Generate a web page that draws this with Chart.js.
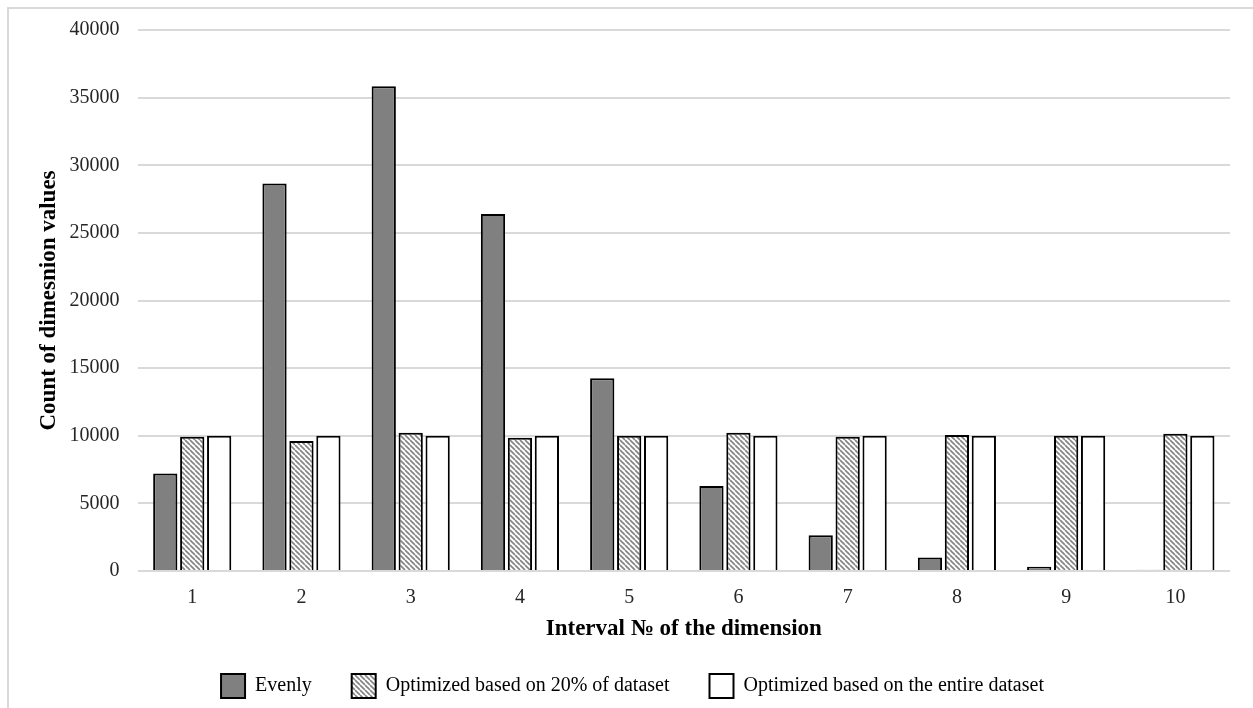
<!DOCTYPE html>
<html lang="en">
<head>
  <meta charset="UTF-8">
  <title>Count of dimension values by interval</title>
  <script src="https://cdn.jsdelivr.net/npm/chart.js"></script>
  <style>
    body { margin: 0; background: #fff; overflow: hidden; }
    #wrap { position: relative; width: 1253px; height: 708px; }
    #frame { position: absolute; left: 7px; top: 7px; width: 1270px; height: 720px; border: 2px solid #d9d9d9; box-sizing: border-box; pointer-events: none; }
  </style>
</head>
<body>
<div id="wrap">
  <canvas id="chart" width="1253" height="708"></canvas>
  <div id="frame"></div>
</div>
<script>
const intervals = ['1', '2', '3', '4', '5', '6', '7', '8', '9', '10'];
const evenly = [7200, 28650, 35850, 26400, 14250, 6280, 2650, 1000, 320, 100];
const optimized20 = [9920, 9620, 10230, 9850, 10000, 10230, 9920, 10060, 10000, 10150];
const optimizedAll = [10000, 10000, 10000, 10000, 10000, 10000, 10000, 10000, 10000, 10000];
const yTicks = [0, 5000, 10000, 15000, 20000, 25000, 30000, 35000, 40000];

// diagonal hatch for the 20% series
function makeHatch() {
  const c = document.createElement('canvas');
  c.width = 5; c.height = 5;
  const g = c.getContext('2d');
  g.fillStyle = '#fff';
  g.fillRect(0, 0, 5, 5);
  g.strokeStyle = '#858585';
  g.lineWidth = 1.7;
  for (let k = -5; k <= 10; k += 5) {
    g.beginPath(); g.moveTo(k, 0); g.lineTo(k + 5, 5); g.stroke();
  }
  return g.createPattern(c, 'repeat');
}
const hatch = makeHatch();

const serif = '"Liberation Serif", "Times New Roman", serif';

new Chart(document.getElementById('chart'), {
  type: 'bar',
  data: {
    labels: intervals,
    datasets: [
      { label: 'Evenly', data: evenly, backgroundColor: '#808080', borderColor: '#000', borderWidth: 2 },
      { label: 'Optimized based on 20% of dataset', data: optimized20, backgroundColor: hatch, borderColor: '#000', borderWidth: 2 },
      { label: 'Optimized based on the entire dataset', data: optimizedAll, backgroundColor: '#fff', borderColor: '#000', borderWidth: 2 }
    ]
  },
  options: {
    responsive: false,
    animation: false,
    layout: { padding: { top: 25, right: 23, left: 35, bottom: 0 } },
    datasets: { bar: { categoryPercentage: 0.74, barPercentage: 0.9 } },
    plugins: {
      tooltip: { enabled: false },
      legend: {
        position: 'bottom',
        labels: { color: '#000', font: { family: serif, size: 20 }, boxWidth: 24, boxHeight: 24, padding: 40 }
      }
    },
    scales: {
      x: {
        grid: { display: false, drawTicks: false },
        border: { display: false },
        ticks: { color: '#262626', font: { family: serif, size: 20, lineHeight: 1 }, padding: 17 },
        title: { display: true, text: 'Interval № of the dimension', color: '#000', font: { family: serif, size: 23, weight: 'bold', lineHeight: 1 }, padding: { top: -7, bottom: -7 } }
      },
      y: {
        min: 0, max: 40000,
        afterBuildTicks: axis => { axis.ticks = yTicks.map(v => ({ value: v })); },
        grid: { color: '#d9d9d9', lineWidth: 2, drawTicks: false },
        border: { display: false },
        ticks: { color: '#262626', font: { family: serif, size: 20 }, padding: 18, callback: v => String(v) },
        title: { display: true, text: 'Count of dimesnion values', color: '#000', font: { family: serif, size: 23, weight: 'bold' }, padding: { top: 0, bottom: -11 } }
      }
    }
  }
});
</script>
</body>
</html>
